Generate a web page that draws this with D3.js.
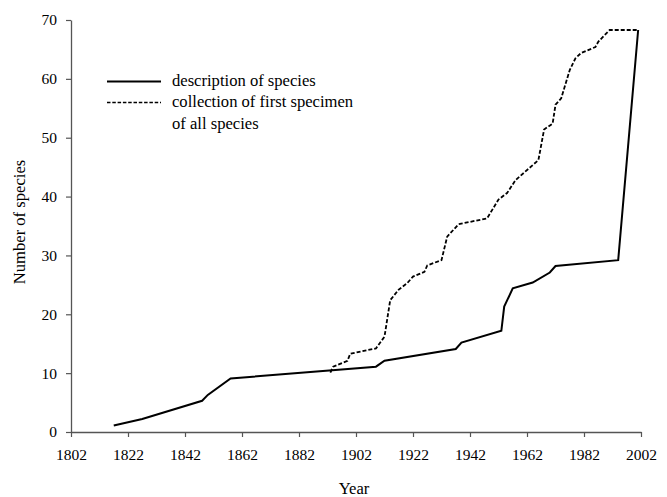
<!DOCTYPE html>
<html><head><meta charset="utf-8">
<script src="https://cdn.jsdelivr.net/npm/d3@7"></script>
<style>body{margin:0;background:#fff}svg{display:block}</style>
</head><body>
<svg id="c" width="667" height="497"></svg>
<script>
const descYears  = [1817,1827,1848,1850,1858,1909,1912,1937,1939,1953,1954,1957,1964,1970,1972,1994,2001];
const descValues = [1.1,2.2,5.3,6.3,9.1,11.1,12.1,14.1,15.2,17.2,21.3,24.4,25.4,27.1,28.2,29.2,68.3];
const collYears  = [1893,1894,1899,1900,1909,1912,1914,1917,1920,1922,1926,1927,1932,1934,1938,1948,1952,1955,1958,1966,1968,1971,1972,1974,1977,1979,1981,1986,1987,1991,2001];
const collValues = [10.1,11.1,12.1,13.3,14.2,16.2,22.4,24.2,25.3,26.4,27.2,28.3,29.2,33.2,35.3,36.3,39.5,40.6,42.8,46.2,51.4,52.4,55.6,56.7,61.5,63.5,64.4,65.4,66.3,68.3,68.3];
const xTicks = [1802,1822,1842,1862,1882,1902,1922,1942,1962,1982,2002];
const yTicks = [0,10,20,30,40,50,60,70];
const legendLabels = ["description of species", ["collection of first specimen","of all species"]];

const FONT = '"Liberation Serif"';
const svg = d3.select("#c");
const x = d3.scaleLinear().domain([1802,2002]).range([71,641]);
const y = d3.scaleLinear().domain([0,70]).range([432,20]);

const axisColor = "#555";
const gx = svg.append("g").attr("transform","translate(0,432)")
  .call(d3.axisBottom(x).tickValues(xTicks).tickFormat(d3.format("d")).tickSize(5).tickPadding(12).tickSizeOuter(0));
const gy = svg.append("g").attr("transform","translate(71,0)")
  .call(d3.axisLeft(y).tickValues(yTicks).tickSize(5).tickPadding(9).tickSizeOuter(0));
[gx,gy].forEach(g=>{
  g.attr("font-family",null);
  g.select(".domain").attr("stroke",axisColor).attr("stroke-width",1.3);
  g.selectAll(".tick line").attr("stroke",axisColor).attr("stroke-width",1.2);
  g.selectAll(".tick text").attr("fill","#000").style("font-size","15.5px").style("font-family",FONT);
});

const line = d3.line().x(d=>x(d[0])).y(d=>y(d[1]));
const desc = descYears.map((d,i)=>[d,descValues[i]]);
const coll = collYears.map((d,i)=>[d,collValues[i]]);
svg.append("path").datum(coll).attr("d",line).attr("fill","none").attr("stroke","#000")
  .attr("stroke-width",1.8).attr("stroke-dasharray","4,2");
svg.append("path").datum(desc).attr("d",line).attr("fill","none").attr("stroke","#000")
  .attr("stroke-width",2);

// legend
svg.append("line").attr("x1",107).attr("x2",161).attr("y1",81.5).attr("y2",81.5).attr("stroke","#000").attr("stroke-width",2);
svg.append("line").attr("x1",107).attr("x2",161).attr("y1",102.5).attr("y2",102.5).attr("stroke","#000").attr("stroke-width",1.6).attr("stroke-dasharray","3.5,1.8");
const t = (xx,yy,s)=>svg.append("text").attr("x",xx).attr("y",yy).style("font-family",FONT).style("font-size","16.6px").attr("fill","#000").text(s);
t(172,86,legendLabels[0]);
t(172,107,legendLabels[1][0]);
t(172,129,legendLabels[1][1]);

// axis titles
t(354,494,"Year").attr("text-anchor","middle");
svg.append("text").attr("transform","translate(25,222) rotate(-90)").attr("text-anchor","middle")
  .style("font-family",FONT).style("font-size","16.6px").text("Number of species");
</script>
</body></html>
